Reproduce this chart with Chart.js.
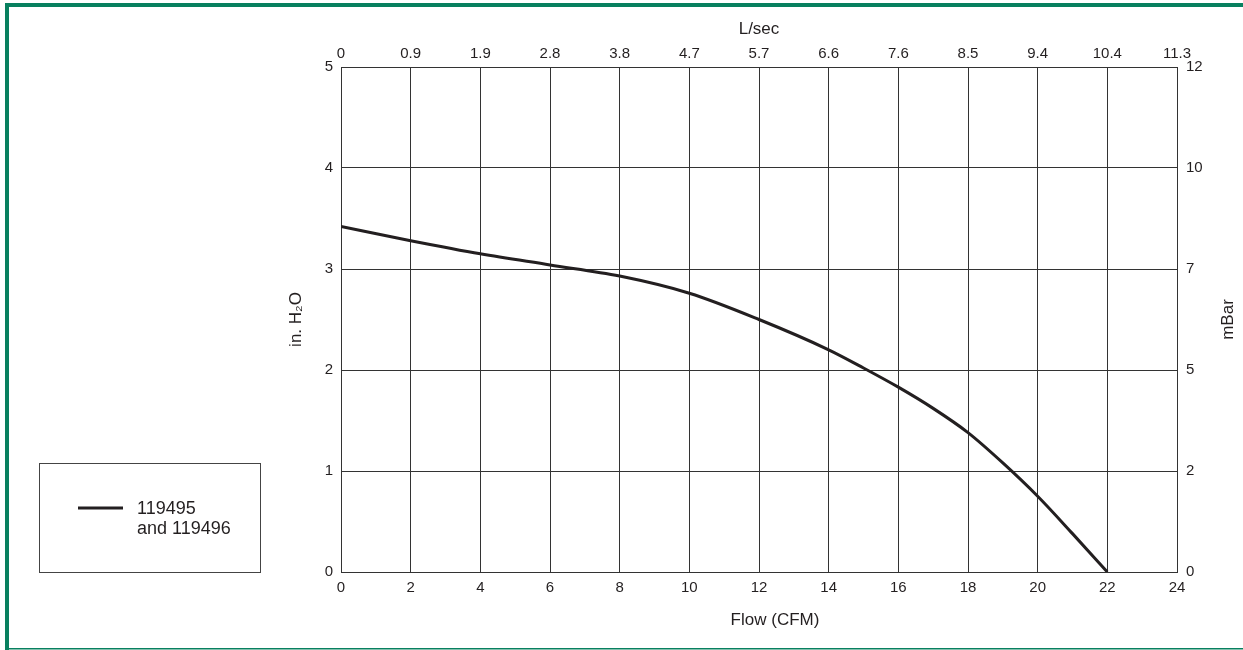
<!DOCTYPE html>
<html>
<head>
<meta charset="utf-8">
<script src="https://cdn.jsdelivr.net/npm/chart.js@4.4.1/dist/chart.umd.min.js"></script>
<style>
  html, body { margin: 0; padding: 0; background: #fff; }
  #wrap { width: 1243px; height: 650px; position: relative; }
</style>
</head>
<body>
<div id="wrap"><canvas id="fanChart" width="1243" height="650"></canvas></div>
<script>
// flow in CFM and static pressure in in. H2O
const flowCfm = [0, 2, 4, 6, 8, 10, 12, 14, 15, 16, 17, 18, 19, 20, 21, 22];
const pressureInH2O = [3.42, 3.28, 3.15, 3.04, 2.93, 2.76, 2.50, 2.20, 2.02, 1.83, 1.62, 1.38, 1.08, 0.75, 0.38, 0];

// secondary axis labels (same grid lines)
const lsecTicks = ['0', '0.9', '1.9', '2.8', '3.8', '4.7', '5.7', '6.6', '7.6', '8.5', '9.4', '10.4', '11.3'];
const mbarTicks = ['0', '2', '5', '7', '10', '12'];

const legendLines = ['119495', 'and 119496'];

const FONT = "'Liberation Sans', Arial, Helvetica, sans-serif";
const GREEN = '#08805f';
const INK = '#231f20';
const GRID = '#333333';

// frame, legend box and the two titles chart.js can't place the way the drawing does
const extrasPlugin = {
    id: 'extras',
    afterDraw(chart) {
        const ctx = chart.ctx;
        const area = chart.chartArea;
        ctx.save();

        // green frame
        ctx.fillStyle = GREEN;
        ctx.fillRect(5, 3, 1238, 4);
        ctx.fillRect(5, 3, 4, 647);
        ctx.fillRect(5, 648, 1238, 1.5);

        // legend box
        ctx.strokeStyle = '#444';
        ctx.lineWidth = 1;
        ctx.strokeRect(39.5, 463.5, 221, 109);
        ctx.strokeStyle = INK;
        ctx.lineWidth = 3;
        ctx.beginPath();
        ctx.moveTo(78, 508);
        ctx.lineTo(123, 508);
        ctx.stroke();
        ctx.fillStyle = INK;
        ctx.font = '18px ' + FONT;
        ctx.textBaseline = 'middle';
        ctx.textAlign = 'left';
        legendLines.forEach((t, i) => ctx.fillText(t, 137, 509 + i * 20));

        // bottom title
        ctx.font = '17px ' + FONT;
        ctx.textAlign = 'center';
        ctx.fillText('Flow (CFM)', 775, 620);

        // right title, reads bottom to top
        ctx.translate(1228, (area.top + area.bottom) / 2);
        ctx.rotate(-Math.PI / 2);
        ctx.fillText('mBar', 0, 0);

        ctx.restore();
    }
};

const ctx = document.getElementById('fanChart').getContext('2d');
const fanChart = new Chart(ctx, {
    type: 'line',
    data: {
        labels: flowCfm,
        datasets: [{
            label: legendLines.join(' '),
            data: flowCfm.map((x, i) => ({ x: x, y: pressureInH2O[i] })),
            borderColor: INK,
            borderWidth: 3,
            pointRadius: 0,
            fill: false,
            cubicInterpolationMode: 'monotone',
            xAxisID: 'x',
            yAxisID: 'y'
        }]
    },
    options: {
        responsive: false,
        animation: false,
        devicePixelRatio: 1,
        layout: { padding: { left: 280, right: 0, top: 10, bottom: 10 } },
        plugins: {
            legend: { display: false },
            tooltip: { enabled: false }
        },
        scales: {
            x: {
                type: 'linear',
                position: 'bottom',
                min: 0,
                max: 24,
                ticks: { stepSize: 2, padding: 7, color: INK, font: { family: FONT, size: 15 } },
                grid: { color: GRID, lineWidth: 1, drawTicks: false },
                border: { color: GRID, width: 1 },
                afterFit(scale) { scale.height = 68; }
            },
            x2: {
                type: 'linear',
                position: 'top',
                min: 0,
                max: 24,
                ticks: {
                    stepSize: 2,
                    padding: 4,
                    color: INK,
                    font: { family: FONT, size: 15 },
                    callback: (v) => lsecTicks[Math.round(v / 2)]
                },
                grid: { display: false, drawTicks: false },
                border: { color: GRID, width: 1 },
                title: { display: true, text: 'L/sec', color: INK, font: { family: FONT, size: 17 }, padding: { top: 9 } },
                afterFit(scale) { scale.height = 57; }
            },
            y: {
                type: 'linear',
                position: 'left',
                min: 0,
                max: 5,
                ticks: { stepSize: 1, padding: 8, color: INK, font: { family: FONT, size: 15 } },
                grid: { color: GRID, lineWidth: 1, drawTicks: false },
                border: { color: GRID, width: 1 },
                title: { display: true, text: 'in. H\u2082O', color: INK, font: { family: FONT, size: 17 }, padding: { top: 6 } },
                afterFit(scale) { scale.width = 61; }
            },
            y2: {
                type: 'linear',
                position: 'right',
                min: 0,
                max: 5,
                ticks: {
                    stepSize: 1,
                    padding: 9,
                    color: INK,
                    font: { family: FONT, size: 15 },
                    callback: (v) => mbarTicks[Math.round(v)]
                },
                grid: { display: false, drawTicks: false },
                border: { color: GRID, width: 1 },
                afterFit(scale) { scale.width = 66; }
            }
        }
    },
    plugins: [extrasPlugin]
});
</script>
</body>
</html>
